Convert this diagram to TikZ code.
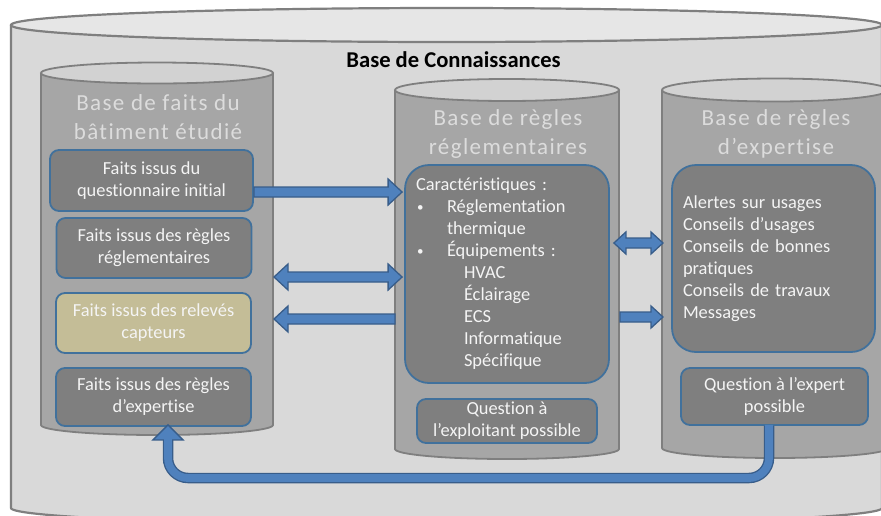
\documentclass[tikz,border=0pt]{standalone}
\usepackage{fontspec}
\setmainfont[Ligatures=NoCommon]{Carlito}
\newfontfamily\spacedfont[LetterSpace=6,Ligatures=NoCommon]{Carlito}
\usetikzlibrary{calc}
\definecolor{outerbody}{HTML}{D9D9D9}
\definecolor{outertop}{HTML}{E6E6E6}
\definecolor{cylbody}{HTML}{A6A6A6}
\definecolor{cyltop}{HTML}{D2D2D2}
\definecolor{cylline}{HTML}{7F7F7F}
\definecolor{boxfill}{HTML}{7F7F7F}
\definecolor{boxline}{HTML}{41719C}
\definecolor{tanfill}{HTML}{C4BD97}
\definecolor{arrfill}{HTML}{4F81BD}
\definecolor{arrline}{HTML}{385D8A}
\definecolor{titlegray}{HTML}{DCDCDC}
\definecolor{boxtext}{HTML}{F4F4F4}
\def\hl{14}\def\hw{13}\def\sw{5}
\newcommand\smallbul{\makebox[31pt][l]{\hspace*{1pt}\fontsize{13}{13}\selectfont\raisebox{1.5pt}{•}}}
\tikzset{
  cylborder/.style={draw=cylline, line width=1.8pt},
  fbox/.style={draw=boxline, line width=1.8pt, fill=boxfill, rounded corners=9pt,
    text=boxtext, align=center, font=\fontsize{18.4}{22}\selectfont, inner sep=0pt},
  cyltitle/.style={text=titlegray, align=center, font=\spacedfont\fontsize{23}{29}\selectfont},
  blockarrow/.style={fill=arrfill, draw=arrline, line width=1.3pt, line join=miter},
  headlen/.store in=\hl, headhalf/.store in=\hw,
  rarr/.style={blockarrow, to path={
    ($(\tikztostart)+(0,-\sw)$) -- ($(\tikztotarget)+(-\hl,-\sw)$) -- ($(\tikztotarget)+(-\hl,-\hw)$)
    -- (\tikztotarget) -- ($(\tikztotarget)+(-\hl,\hw)$) -- ($(\tikztotarget)+(-\hl,\sw)$)
    -- ($(\tikztostart)+(0,\sw)$) -- cycle}},
  larr/.style={blockarrow, to path={
    ($(\tikztostart)+(0,-\sw)$) -- ($(\tikztotarget)+(\hl,-\sw)$) -- ($(\tikztotarget)+(\hl,-\hw)$)
    -- (\tikztotarget) -- ($(\tikztotarget)+(\hl,\hw)$) -- ($(\tikztotarget)+(\hl,\sw)$)
    -- ($(\tikztostart)+(0,\sw)$) -- cycle}},
  darr/.style={blockarrow, to path={
    (\tikztostart) -- ($(\tikztostart)+(\hl,-\hw)$) -- ($(\tikztostart)+(\hl,-\sw)$)
    -- ($(\tikztotarget)+(-\hl,-\sw)$) -- ($(\tikztotarget)+(-\hl,-\hw)$) -- (\tikztotarget)
    -- ($(\tikztotarget)+(-\hl,\hw)$) -- ($(\tikztotarget)+(-\hl,\sw)$)
    -- ($(\tikztostart)+(\hl,\sw)$) -- ($(\tikztostart)+(\hl,\hw)$) -- cycle}},
}
\begin{document}
\begin{tikzpicture}[x=1pt,y=-1pt]
\useasboundingbox (0,0) rectangle (881,515);
\clip (0,0) rectangle (881,515);
\fill[white] (0,0) rectangle (881,515);

% outer cylinder
\fill[outerbody] (11,25) -- (11,508) arc[start angle=180,end angle=0,x radius=435.5,y radius=17] -- (882,25) -- cycle;
\draw[cylline, line width=2.2pt] (11,25) -- (11,508) arc[start angle=180,end angle=0,x radius=435.5,y radius=17] -- (882,25);
\draw[cylline, line width=2.2pt, fill=outertop] (446.5,25) ellipse[x radius=435.5, y radius=17];

\node[font=\bfseries\fontsize{22.6}{26}\selectfont] (title) at (453.5,60) {Base de Connaissances};

% inner cylinders
\fill[cylbody] (41,73) -- (41,425) arc[start angle=180,end angle=0,x radius=116,y radius=10] -- (273,73) -- cycle;
\draw[cylborder] (41,73) -- (41,425) arc[start angle=180,end angle=0,x radius=116,y radius=10] -- (273,73);
\draw[cylborder, fill=cyltop] (157,73) ellipse[x radius=116, y radius=10.5];

\fill[cylbody] (395,90) -- (395,449) arc[start angle=180,end angle=0,x radius=112,y radius=10] -- (619,90) -- cycle;
\draw[cylborder] (395,90) -- (395,449) arc[start angle=180,end angle=0,x radius=112,y radius=10] -- (619,90);
\draw[cylborder, fill=cyltop] (507,90) ellipse[x radius=112, y radius=11];

\fill[cylbody] (662,90) -- (662,448) arc[start angle=180,end angle=0,x radius=113,y radius=10] -- (888,90) -- cycle;
\draw[cylborder] (662,90) -- (662,448) arc[start angle=180,end angle=0,x radius=113,y radius=10] -- (888,90);
\draw[cylborder, fill=cyltop] (775,90) ellipse[x radius=113, y radius=11.5];

\coordinate (lcylE) at (274,0);
\coordinate (mcylW) at (395,0);
\coordinate (mcylE) at (620,0);
\coordinate (rcylW) at (663,0);

\node[cyltitle] (t1) at (158,117) {Base de faits du\\bâtiment étudié};
\node[cyltitle] (t2) at (508,134) {Base de règles\\réglementaires};
\node[cyltitle] (t3) at (776,134) {Base de règles\\d’expertise};

% boxes (needed for arrows)
\node[fbox, minimum width=203pt, minimum height=61pt] (b1) at (151.5,180.5) {Faits issus du\\questionnaire initial};
\node[fbox, rounded corners=24pt, minimum width=204pt, minimum height=218pt, text width=182pt,
  align=left, inner xsep=11pt] (mbox) at (507,274) {Caractéristiques :\\
\smallbul Réglementation\\
\hspace*{31pt}thermique\\
\smallbul Équipements :\\
\hspace*{48pt}HVAC\\
\hspace*{48pt}Éclairage\\
\hspace*{48pt}ECS\\
\hspace*{48pt}Informatique\\
\hspace*{48pt}Spécifique};

% arrows
\draw[rarr] (b1.east |- 0,192) to ($(mbox.west |- 0,192)+(-2,0)$);
\draw[darr] (lcylE |- 0,277) to ($(mbox.west |- 0,277)+(-2,0)$);
\draw[larr] (mcylW |- 0,319) to (lcylE |- 0,319);
\draw[darr, headlen=12, headhalf=11] ($(mbox.east |- 0,243)+(4,0)$) to (rcylW |- 0,243);
\draw[rarr, headlen=12, headhalf=11] (mcylE |- 0,317) to (rcylW |- 0,317);

\node[fbox, minimum width=195pt, minimum height=60pt] (b2) at (154,248) {Faits issus des règles\\réglementaires};
\node[fbox, fill=tanfill, minimum width=195pt, minimum height=60pt] (b3) at (153.5,323) {Faits issus des relevés\\capteurs};
\node[fbox, minimum width=195pt, minimum height=58pt] (b4) at (153.5,397) {Faits issus des règles\\d’expertise};

\node[fbox, minimum width=180pt, minimum height=44pt] (mq) at (507,421) {Question à\\l’exploitant possible};
\node[fbox, rounded corners=24pt, minimum width=203pt, minimum height=187pt, text width=181pt,
  align=left, inner xsep=11pt] (rbox) at (773.5,258.5) {Alertes sur usages\\Conseils d’usages\\Conseils de bonnes\\pratiques\\Conseils de travaux\\Messages};

% U arrow
\node[fbox, minimum width=187pt, minimum height=57pt] (rq) at (774.5,396.5) {Question à l’expert\\possible};
\coordinate (ustart) at ($(rq.south)+(-5.5,0)$);
\coordinate (utip) at ($(b4.south)+(14.5,-2)$);
\draw[arrline, line width=10.5pt, rounded corners=20pt] (ustart) -- (ustart |- 0,478) -- (utip |- 0,478) -- ($(utip)+(0,15)$);
\draw[blockarrow] (utip) -- ++(15,15) -- ++(-30,0) -- cycle;
\draw[arrfill, line width=7.8pt, rounded corners=20pt] ($(ustart)+(0,-1)$) -- (ustart |- 0,478) -- (utip |- 0,478) -- ($(utip)+(0,13)$);
\end{tikzpicture}
\end{document}
